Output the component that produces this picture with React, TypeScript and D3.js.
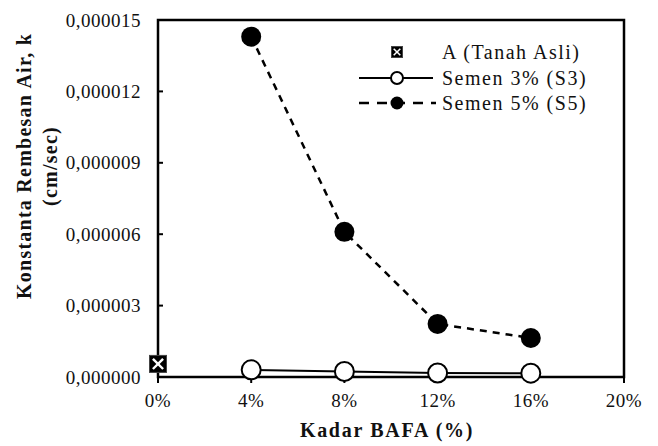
import React from "react";
import * as d3 from "d3";

const xTicks = [0, 0.04, 0.08, 0.12, 0.16, 0.2];
const yTicks = [0, 0.000003, 0.000006, 0.000009, 0.000012, 0.000015];
const seriesA = [{ x: 0, y: 0.00000055 }];
const kadar = [0.04, 0.08, 0.12, 0.16];
const s3Values = [0.0000003, 0.00000023, 0.00000017, 0.00000016];
const s5Values = [0.0000143, 0.0000061, 0.00000223, 0.00000164];
const legendLabels = ["A (Tanah Asli)", "Semen 3% (S3)", "Semen 5% (S5)"];

const W = 658, H = 446;
const L = 158, R = 624, T = 20, B = 377;
const serif = "'Liberation Serif', 'Times New Roman', serif";

export default function App() {
  const x = d3.scaleLinear().domain([0, 0.2]).range([L, R]);
  const y = d3.scaleLinear().domain([0, 0.000015]).range([B, T]);
  const s3 = kadar.map((k, i) => ({ x: k, y: s3Values[i] }));
  const s5 = kadar.map((k, i) => ({ x: k, y: s5Values[i] }));
  const line = d3.line<{ x: number; y: number }>().x(d => x(d.x)).y(d => y(d.y));
  const fmtY = (v: number) => v.toFixed(6).replace(".", ",");
  const fmtX = (v: number) => `${Math.round(v * 100)}%`;

  const boxX = (cx: number, cy: number, s: number, key: string) => {
    const h = s / 2, i = s * 0.2;
    return (
      <g key={key}>
        <rect x={cx - h} y={cy - h} width={s} height={s} fill="#000" stroke="#444" strokeWidth={1} />
        <line x1={cx - h + i} y1={cy - h + i} x2={cx + h - i} y2={cy + h - i} stroke="#fff" strokeWidth={s * 0.14} />
        <line x1={cx + h - i} y1={cy - h + i} x2={cx - h + i} y2={cy + h - i} stroke="#fff" strokeWidth={s * 0.14} />
      </g>
    );
  };

  const legY = [52, 78, 103];
  const ts = { fontFamily: serif } as React.CSSProperties;

  return (
    <svg width={W} height={H} style={{ position: "absolute", left: 0, top: 0, background: "#fff", fontFamily: serif }}>
      <rect x={0} y={0} width={W} height={H} fill="#fff" />
      {yTicks.map(t => (
        <g key={"y" + t}>
          <line x1={L} x2={L + 5} y1={y(t)} y2={y(t)} stroke="#000" strokeWidth={2} />
          <text x={141} y={y(t)} dy="0.35em" textAnchor="end" fontSize={19} letterSpacing={0.5} fill="#111" style={ts}>{fmtY(t)}</text>
        </g>
      ))}
      {xTicks.map(t => (
        <g key={"x" + t}>
          <line x1={x(t)} x2={x(t)} y1={B} y2={B + 6} stroke="#000" strokeWidth={2} />
          <text x={x(t)} y={407} textAnchor="middle" fontSize={19} letterSpacing={0.5} fill="#111" style={ts}>{fmtX(t)}</text>
        </g>
      ))}
      <rect x={L} y={T} width={R - L} height={B - T} fill="none" stroke="#000" strokeWidth={2.5} />

      <path d={line(s3) || ""} fill="none" stroke="#000" strokeWidth={2} />
      {s3.map((d, i) => (
        <circle key={"s3" + i} cx={x(d.x)} cy={y(d.y)} r={9.5} fill="#fff" stroke="#000" strokeWidth={2} />
      ))}
      <path d={line(s5) || ""} fill="none" stroke="#000" strokeWidth={2.5} strokeDasharray="7,6" />
      {s5.map((d, i) => (
        <circle key={"s5" + i} cx={x(d.x)} cy={y(d.y)} r={10} fill="#000" />
      ))}
      {seriesA.map((d, i) => boxX(x(d.x), y(d.y), 17, "a" + i))}

      {boxX(397, legY[0], 11, "legA")}
      <line x1={359} x2={433} y1={legY[1]} y2={legY[1]} stroke="#000" strokeWidth={2} />
      <circle cx={397} cy={legY[1]} r={6} fill="#fff" stroke="#000" strokeWidth={2} />
      <line x1={359} x2={436} y1={legY[2]} y2={legY[2]} stroke="#000" strokeWidth={2.5} strokeDasharray="10,8" />
      <circle cx={397} cy={legY[2]} r={6.5} fill="#000" />
      {legendLabels.map((lab, i) => (
        <text key={lab} x={442} y={legY[i]} dy="0.35em" fontSize={20} letterSpacing={1.5} fill="#111" style={ts}>{lab}</text>
      ))}

      <text x={387} y={437} textAnchor="middle" fontSize={20} fontWeight="bold" letterSpacing={1.7} fill="#111" style={ts}>Kadar BAFA (%)</text>
      <text transform="translate(31,166) rotate(-90)" textAnchor="middle" fontSize={20} fontWeight="bold" letterSpacing={1.25} fill="#111" style={ts}>Konstanta Rembesan Air, k</text>
      <text transform="translate(57,166) rotate(-90)" textAnchor="middle" fontSize={20} fontWeight="bold" letterSpacing={1.25} fill="#111" style={ts}>(cm/sec)</text>
    </svg>
  );
}
